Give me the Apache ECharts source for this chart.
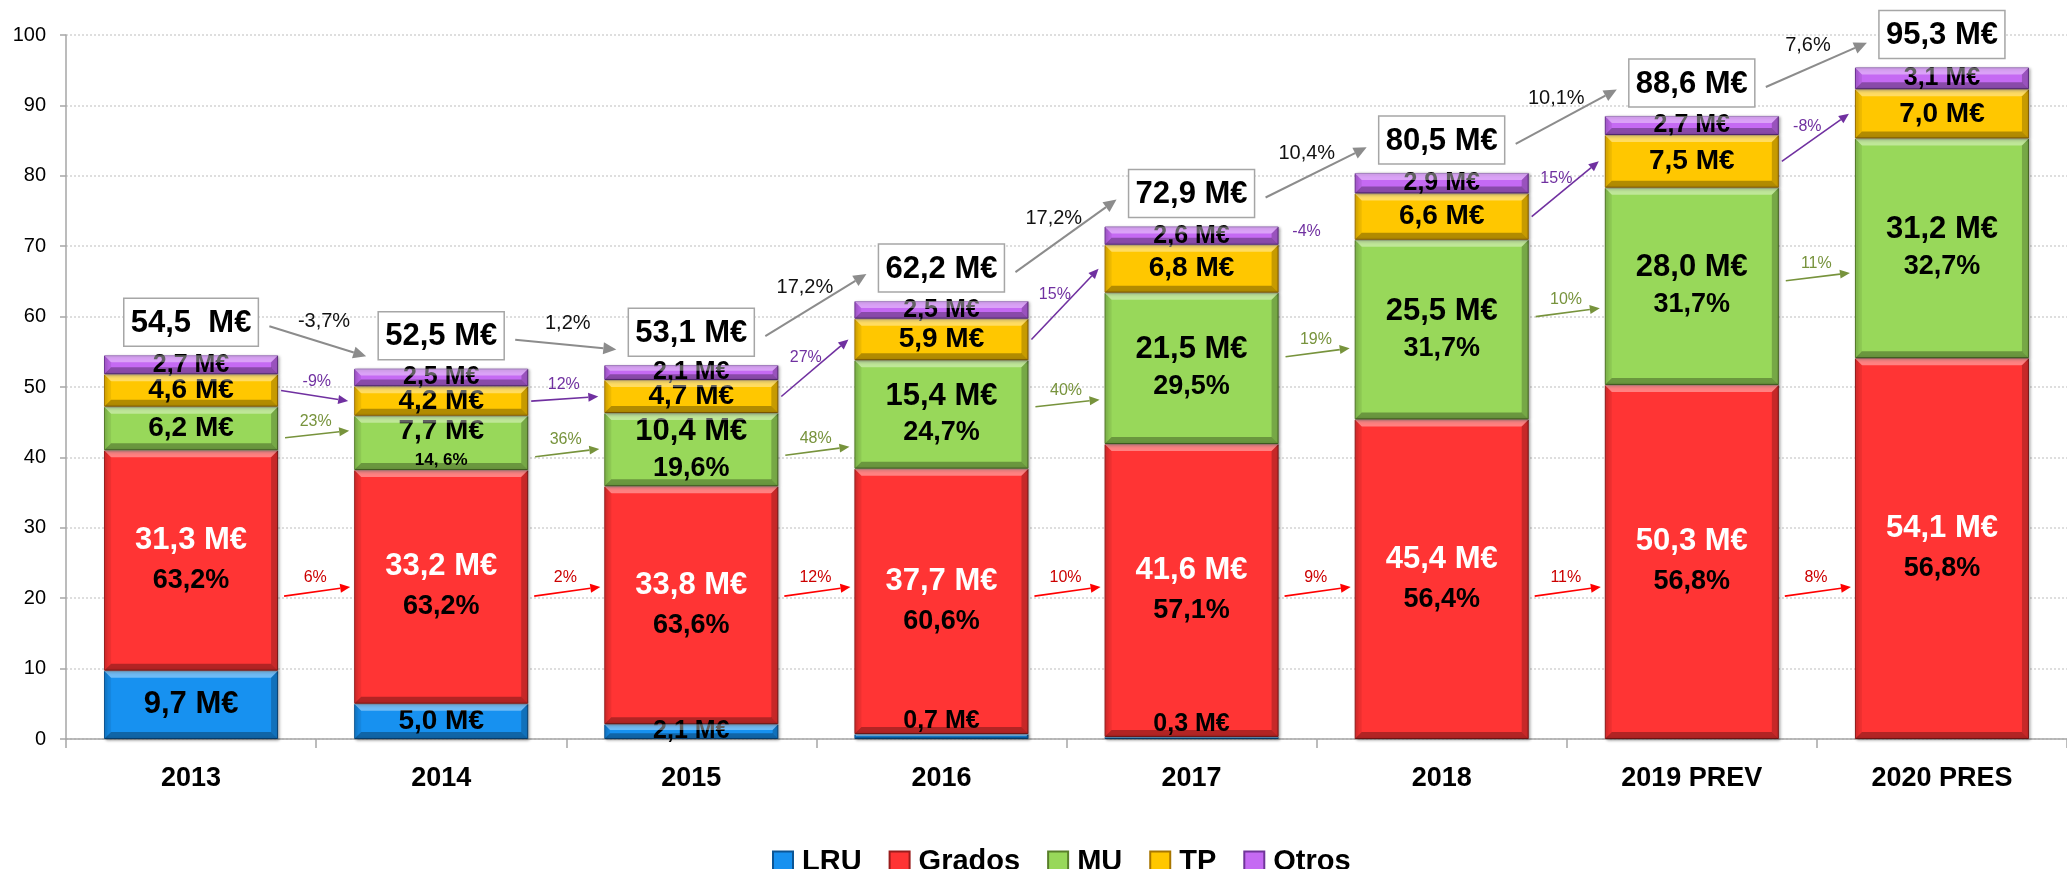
<!DOCTYPE html>
<html><head><meta charset="utf-8">
<script src="https://cdn.jsdelivr.net/npm/echarts@6/dist/echarts.min.js"></script>
<style>html,body{margin:0;padding:0;background:#fff}#c{width:2067px;height:869px}</style>
</head><body><div id="c"></div>
<script>
// ---------- DATA ----------
const categories = ['2013','2014','2015','2016','2017','2018','2019 PREV','2020 PRES'];
const lru    = [9.7, 5.0, 2.1, 0.7, 0.3, 0, 0, 0];
const grados = [31.3, 33.2, 33.8, 37.7, 41.6, 45.4, 50.3, 54.1];
const mu     = [6.2, 7.7, 10.4, 15.4, 21.5, 25.5, 28.0, 31.2];
const tp     = [4.6, 4.2, 4.7, 5.9, 6.8, 6.6, 7.5, 7.0];
const otros  = [2.7, 2.5, 2.1, 2.5, 2.6, 2.9, 2.7, 3.1];
const gradosPct = ['63,2%','63,2%','63,6%','60,6%','57,1%','56,4%','56,8%','56,8%'];
const muPct     = ['', '14, 6%', '19,6%', '24,7%', '29,5%', '31,7%', '31,7%', '32,7%'];
const totalLabels  = ['54,5  M€','52,5 M€','53,1 M€','62,2 M€','72,9 M€','80,5 M€','88,6 M€','95,3 M€'];
const totalGrowth  = ['-3,7%','1,2%','17,2%','17,2%','10,4%','10,1%','7,6%'];
const gradosGrowth = ['6%','2%','12%','10%','9%','11%','8%'];
const muGrowth     = ['23%','36%','48%','40%','19%','10%','11%'];
const tpGrowth     = ['-9%','12%','27%','15%','-4%','15%','-8%'];
const tpArrowDrawn = [true, true, true, true, false, true, true];
// arrow levels (axis units)
const gradosArrowLevel = [20.3, 21.6];
const muArrowStart = [42.8, 40.1, 40.3, 47.2, 54.3, 60.0, 65.1];
const muArrowEnd   = [43.8, 41.2, 41.5, 48.2, 55.5, 61.2, 66.2];
const legendNames = ['LRU','Grados','MU','TP','Otros'];
const yTicks = {min: 0, max: 100, interval: 10};

// ---------- HELPERS ----------
const FONT = '"Liberation Sans", Arial, sans-serif';
const seriesVals = [lru, grados, mu, tp, otros];
function fmt(v){ return v.toFixed(1).replace('.', ',') + ' M€'; }
function segBounds(i, k){
  let b = 0; for (let j = 0; j < k; j++) b += seriesVals[j][i];
  return [b, b + seriesVals[k][i]];
}
function stackTop(i){ return segBounds(i, 4)[1]; }
const measureCtx = document.createElement('canvas').getContext('2d');
function textW(t, size, weight){ measureCtx.font = (weight||'normal') + ' ' + size + 'px ' + FONT; return measureCtx.measureText(t).width; }

const HALF_BAR = 87;
const palette = {
  LRU:    {c:'#1791f0', b:'#0b5595'},
  Grados: {c:'#ff3434', b:'#9a1c1c'},
  MU:     {c:'#98d85a', b:'#587f2a'},
  TP:     {c:'#ffc700', b:'#a87600'},
  Otros:  {c:'#c56af3', b:'#70359a'}
};
function itemStyle(name){
  return {color: palette[name].c, borderColor: palette[name].b, borderWidth: 1,
          shadowBlur: 3, shadowColor: 'rgba(0,0,0,0.35)', shadowOffsetX: 1.5, shadowOffsetY: 1};
}

function lruSize(v){ return v >= 9 ? 31 : (v >= 5 ? 28 : 25); }

const lruData = lru.map((v, i) => {
  if (!v) return '-';
  const item = {value: v, label: {fontSize: lruSize(v)}};
  if (v < 1) { item.label.position = 'top'; item.label.distance = 0; }
  return item;
});

function arrow(ch, x1, y1, x2, y2, color, lw, hl, hw){
  const dx = x2 - x1, dy = y2 - y1, len = Math.hypot(dx, dy), ux = dx/len, uy = dy/len;
  const bx = x2 - ux*hl, by = y2 - uy*hl;
  ch.push({type:'line', shape:{x1:x1, y1:y1, x2:bx, y2:by}, style:{stroke:color, lineWidth:lw}});
  ch.push({type:'polygon', shape:{points:[[x2,y2],[bx - uy*hw, by + ux*hw],[bx + uy*hw, by - ux*hw]]}, style:{fill:color}});
}
function pct(ch, x1, y1, x2, y2, text, color, size, off){
  const dx = x2 - x1, dy = y2 - y1, len = Math.hypot(dx, dy);
  const nx = dy/len, ny = -dx/len;
  ch.push({type:'text', style:{text:text, x:(x1+x2)/2 + nx*off, y:(y1+y2)/2 + ny*off,
    fill:color, fontSize:size, fontFamily:FONT, align:'center', verticalAlign:'middle'}});
}

function boxInfo(api, i){
  const p = api.coord([i, stackTop(i)]);
  const w = textW(totalLabels[i], 31, 'bold') + 14;
  const h = 48;
  const bottom = p[1] - 9;
  return {cx: p[0], cy: bottom - h/2, w: w, h: h};
}

// bevel highlight / shade on every segment (decorative, follows the bar scale)
function renderBevel(params, api){
  const i = params.dataIndex;
  const ch = [];
  for (let k = 0; k < 5; k++){
    if (!seriesVals[k][i]) continue;
    const s = segBounds(i, k);
    const cx = api.coord([i, 0])[0];
    const x0 = cx - HALF_BAR, x1 = cx + HALF_BAR;
    const yT = api.coord([i, s[1]])[1], yB = api.coord([i, s[0]])[1];
    const d = Math.min(7, (yB - yT) / 2.6);
    if (d < 0.8) continue;
    ch.push({type:'polygon', shape:{points:[[x0,yT],[x1,yT],[x1-d,yT+d],[x0+d,yT+d]]}, style:{fill:'rgba(255,255,255,0.38)'}});
    ch.push({type:'polygon', shape:{points:[[x0,yB],[x1,yB],[x1-d,yB-d],[x0+d,yB-d]]}, style:{fill:'rgba(0,0,0,0.30)'}});
    ch.push({type:'polygon', shape:{points:[[x0,yT],[x0+d,yT+d],[x0+d,yB-d],[x0,yB]]}, style:{fill:'rgba(0,0,0,0.07)'}});
    ch.push({type:'polygon', shape:{points:[[x1,yT],[x1-d,yT+d],[x1-d,yB-d],[x1,yB]]}, style:{fill:'rgba(0,0,0,0.22)'}});
  }
  return {type:'group', children: ch};
}

function renderAnno(params, api){
  const i = params.dataIndex;
  const ch = [];
  const b = boxInfo(api, i);
  ch.push({type:'rect', shape:{x: b.cx - b.w/2, y: b.cy - b.h/2, width: b.w, height: b.h},
    style:{fill:'#fff', stroke:'#a6a6a6', lineWidth:1.5}});
  ch.push({type:'text', style:{text: totalLabels[i], x: b.cx, y: b.cy + 1, fill:'#000',
    fontSize:31, fontWeight:'bold', fontFamily:FONT, align:'center', verticalAlign:'middle'}});
  if (i < categories.length - 1){
    const n = boxInfo(api, i + 1);
    const gx1 = b.cx + b.w/2 + 11, gy1 = b.cy + 4, gx2 = n.cx - n.w/2 - 12;
    const gy2 = Math.max(n.cy + 6, n.cy + 18 - 0.2 * (b.cy - n.cy));
    arrow(ch, gx1, gy1, gx2, gy2, '#8c8c8c', 2, 13, 6);
    pct(ch, gx1, gy1, gx2, gy2, totalGrowth[i], '#111', 20, 21);
    const xL = api.coord([i, 0])[0] + HALF_BAR, xR = api.coord([i + 1, 0])[0] - HALF_BAR;
    {
      const x1 = xL + 6, x2 = xR - 4;
      const y1 = api.coord([i, gradosArrowLevel[0]])[1], y2 = api.coord([i, gradosArrowLevel[1]])[1];
      arrow(ch, x1, y1, x2, y2, '#ff0000', 1.6, 10, 4.5);
      pct(ch, x1, y1, x2, y2, gradosGrowth[i], '#cc0000', 16, 14);
    }
    {
      const x1 = xL + 7, x2 = xR - 5;
      const y1 = api.coord([i, muArrowStart[i]])[1], y2 = api.coord([i, muArrowEnd[i]])[1];
      arrow(ch, x1, y1, x2, y2, '#77933c', 1.6, 10, 4.5);
      pct(ch, x1, y1, x2, y2, muGrowth[i], '#77933c', 16, 13);
    }
    {
      const s = segBounds(i, 3), e = segBounds(i + 1, 3);
      const x1 = xL + 3, x2 = xR - 6;
      const y1 = api.coord([i, (s[0] + s[1]) / 2])[1], y2 = api.coord([i, (e[0] + e[1]) / 2])[1];
      if (tpArrowDrawn[i]) arrow(ch, x1, y1, x2, y2, '#7030a0', 1.6, 10, 4.5);
      pct(ch, x1, y1, x2, y2, tpGrowth[i], '#7030a0', 16, 14);
    }
  }
  return {type:'group', children: ch};
}

const chart = echarts.init(document.getElementById('c'), null, {renderer:'canvas'});
const baseLabel = {show: true, position: 'inside', color: '#000', fontWeight: 'bold', fontFamily: FONT};

chart.setOption({
  animation: false,
  backgroundColor: '#fff',
  grid: {left: 66, top: 35, width: 2024, height: 704, containLabel: false},
  legend: {
    data: legendNames, left: 767, top: 842, itemWidth: 20, itemHeight: 20, itemGap: 27, icon: 'rect',
    textStyle: {fontSize: 29, fontWeight: 'bold', fontFamily: FONT, color: '#000', padding: [0,0,0,4]}
  },
  xAxis: {
    type: 'category', data: categories,
    axisLine: {lineStyle: {color: '#a6a6a6', width: 1.5}},
    axisTick: {show: true, length: 9, lineStyle: {color: '#a6a6a6', width: 1.5}},
    axisLabel: {fontSize: 27, fontWeight: 'bold', fontFamily: FONT, color: '#000', margin: 26}
  },
  yAxis: {
    type: 'value', min: yTicks.min, max: yTicks.max, interval: yTicks.interval,
    axisLine: {show: true, lineStyle: {color: '#a6a6a6', width: 1.5}},
    axisTick: {show: true, length: 6, lineStyle: {color: '#a6a6a6', width: 1.5}},
    axisLabel: {fontSize: 20, fontFamily: FONT, color: '#000', margin: 20},
    splitLine: {show: true, lineStyle: {color: '#d4d4d4', type: [2, 2], width: 1.5}}
  },
  series: [
    {name:'LRU', type:'bar', stack:'t', barWidth: 174, data: lruData, itemStyle: itemStyle('LRU'),
     label: Object.assign({}, baseLabel, {fontSize: 28, formatter: p => fmt(p.value)})},
    {name:'Grados', type:'bar', stack:'t', barWidth: 174, data: grados, itemStyle: itemStyle('Grados'),
     label: Object.assign({}, baseLabel, {
       formatter: p => '{v|' + fmt(p.value) + '}\n{p|' + gradosPct[p.dataIndex] + '}',
       rich: {v: {color:'#fff', fontSize:31, fontWeight:'bold', fontFamily:FONT, lineHeight:40},
              p: {color:'#000', fontSize:27, fontWeight:'bold', fontFamily:FONT, lineHeight:40}}})},
    {name:'MU', type:'bar', stack:'t', barWidth: 174, data: mu, itemStyle: itemStyle('MU'),
     label: Object.assign({}, baseLabel, {
       formatter: p => {
         const i = p.dataIndex, v = p.value;
         if (!muPct[i]) return '{a|' + fmt(v) + '}';
         if (i === 1) return '{a|' + fmt(v) + '}\n{s|' + muPct[i] + '}';
         return '{b|' + fmt(v) + '}\n{p|' + muPct[i] + '}';
       },
       rich: {a: {color:'#000', fontSize:28, fontWeight:'bold', fontFamily:FONT, lineHeight:34},
              b: {color:'#000', fontSize:31, fontWeight:'bold', fontFamily:FONT, lineHeight:37},
              s: {color:'#000', fontSize:17, fontWeight:'bold', fontFamily:FONT, lineHeight:24},
              p: {color:'#000', fontSize:27, fontWeight:'bold', fontFamily:FONT, lineHeight:37}}})},
    {name:'TP', type:'bar', stack:'t', barWidth: 174, data: tp, itemStyle: itemStyle('TP'),
     label: Object.assign({}, baseLabel, {fontSize: 28, formatter: p => fmt(p.value)})},
    {name:'Otros', type:'bar', stack:'t', barWidth: 174, data: otros, itemStyle: itemStyle('Otros'),
     label: Object.assign({}, baseLabel, {fontSize: 25, formatter: p => fmt(p.value)})},
    {name:'bevel', type:'custom', coordinateSystem:'cartesian2d', z: 3, silent: true, clip: false,
     data: categories.map((c, i) => [i, stackTop(i)]), renderItem: renderBevel},
    {name:'anno', type:'custom', coordinateSystem:'cartesian2d', z: 10, silent: true, clip: false,
     data: categories.map((c, i) => [i, stackTop(i)]), renderItem: renderAnno}
  ]
});
</script></body></html>
